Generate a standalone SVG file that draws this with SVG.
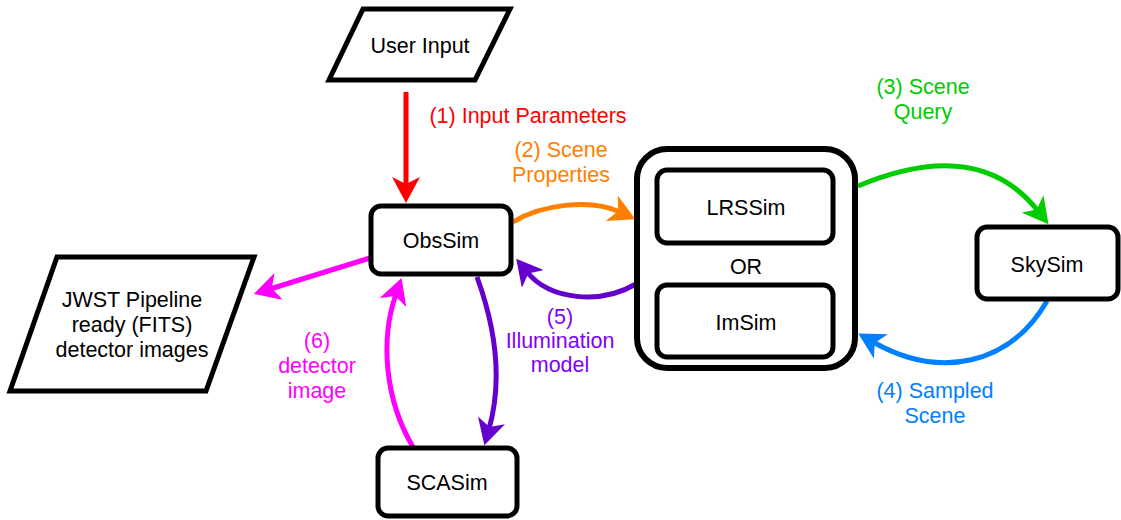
<svg xmlns="http://www.w3.org/2000/svg" width="1121" height="520" viewBox="0 0 1121 520">
<style>
.node{fill:#fff;stroke:#000;stroke-width:5}
.t{font-family:"Liberation Sans",Arial,sans-serif;font-size:21.5px;text-anchor:middle;fill:#000}
.c{fill:none;stroke-width:5}
</style>
<defs>
<marker id="mr" markerUnits="userSpaceOnUse" viewBox="0 0 26 28" markerWidth="26" markerHeight="28" refX="9" refY="14" orient="auto"><path d="M0,0 L26,14 L0,28 L7,14 Z" fill="#FF0000"/></marker>
<marker id="mo" markerUnits="userSpaceOnUse" viewBox="0 0 26 28" markerWidth="26" markerHeight="28" refX="9" refY="14" orient="auto"><path d="M0,0 L26,14 L0,28 L7,14 Z" fill="#FF8000"/></marker>
<marker id="mp" markerUnits="userSpaceOnUse" viewBox="0 0 26 28" markerWidth="26" markerHeight="28" refX="9" refY="14" orient="auto"><path d="M0,0 L26,14 L0,28 L7,14 Z" fill="#6600CC"/></marker>
<marker id="mm" markerUnits="userSpaceOnUse" viewBox="0 0 26 28" markerWidth="26" markerHeight="28" refX="9" refY="14" orient="auto"><path d="M0,0 L26,14 L0,28 L7,14 Z" fill="#FF00FF"/></marker>
<marker id="mg" markerUnits="userSpaceOnUse" viewBox="0 0 26 28" markerWidth="26" markerHeight="28" refX="9" refY="14" orient="auto"><path d="M0,0 L26,14 L0,28 L7,14 Z" fill="#00CC00"/></marker>
<marker id="mb" markerUnits="userSpaceOnUse" viewBox="0 0 26 28" markerWidth="26" markerHeight="28" refX="9" refY="14" orient="auto"><path d="M0,0 L26,14 L0,28 L7,14 Z" fill="#007FFF"/></marker>
</defs>
<rect width="1121" height="520" fill="#fff"/>
<g id="connectors">
<path class="c" stroke="#FF0000" d="M406,92 L406,186" marker-end="url(#mr)"/>
<path class="c" stroke="#FF8000" d="M513,222 C540,205 590,198 620,212" marker-end="url(#mo)"/>
<path class="c" stroke="#6600CC" d="M636,284 C600,305 550,300 527,272" marker-end="url(#mp)"/>
<path class="c" stroke="#6600CC" d="M477,277 C500,340 500,390 489,429" marker-end="url(#mp)"/>
<path class="c" stroke="#FF00FF" d="M413,447 C385,400 380,340 396,294" marker-end="url(#mm)"/>
<path class="c" stroke="#FF00FF" d="M370,258 L270,289" marker-end="url(#mm)"/>
<path class="c" stroke="#00CC00" d="M858,186 C920,160 990,150 1038,211" marker-end="url(#mg)"/>
<path class="c" stroke="#007FFF" d="M1047,301 C1010,365 940,380 873,342" marker-end="url(#mb)"/>
</g>
<g id="labels">
<text class="t" x="528" y="123" style="fill:#FF0000">(1) Input Parameters</text>
<text class="t" x="561" y="157" style="fill:#FF8000">(2) Scene</text>
<text class="t" x="561" y="182" style="fill:#FF8000">Properties</text>
<text class="t" x="923" y="94" style="fill:#00CC00">(3) Scene</text>
<text class="t" x="923" y="119" style="fill:#00CC00">Query</text>
<text class="t" x="935" y="398" style="fill:#007FFF">(4) Sampled</text>
<text class="t" x="935" y="423" style="fill:#007FFF">Scene</text>
<text class="t" x="560" y="324" style="fill:#7F00FF">(5)</text>
<text class="t" x="560" y="348" style="fill:#7F00FF">Illumination</text>
<text class="t" x="560" y="372" style="fill:#7F00FF">model</text>
<text class="t" x="317" y="348" style="fill:#FF00FF">(6)</text>
<text class="t" x="317" y="373" style="fill:#FF00FF">detector</text>
<text class="t" x="317" y="398" style="fill:#FF00FF">image</text>
</g>
<g id="user-input">
<polygon class="node" points="363,9 510,9 475,80 329,80"/>
<text class="t" x="420" y="53">User Input</text>
</g>
<g id="obssim">
<rect class="node" x="371" y="206" width="140" height="68" rx="10"/>
<text class="t" x="441" y="248">ObsSim</text>
</g>
<g id="jwst">
<polygon class="node" points="57,257 254,257 206,391 10,391"/>
<text class="t" x="132" y="307">JWST Pipeline</text>
<text class="t" x="132" y="332">ready (FITS)</text>
<text class="t" x="132" y="357">detector images</text>
</g>
<g id="scasim">
<rect class="node" x="378" y="448" width="139" height="68" rx="10"/>
<text class="t" x="447" y="490">SCASim</text>
</g>
<g id="container">
<rect class="node" x="637" y="149" width="218" height="219" rx="30" style="stroke-width:6"/>
<text class="t" x="746" y="274">OR</text>
</g>
<g id="lrssim">
<rect class="node" x="657" y="170" width="176" height="73" rx="10"/>
<text class="t" x="746" y="215">LRSSim</text>
</g>
<g id="imsim">
<rect class="node" x="657" y="285" width="176" height="72" rx="10"/>
<text class="t" x="746" y="330">ImSim</text>
</g>
<g id="skysim">
<rect class="node" x="977" y="227" width="141" height="72" rx="10"/>
<text class="t" x="1047" y="272">SkySim</text>
</g>
</svg>
